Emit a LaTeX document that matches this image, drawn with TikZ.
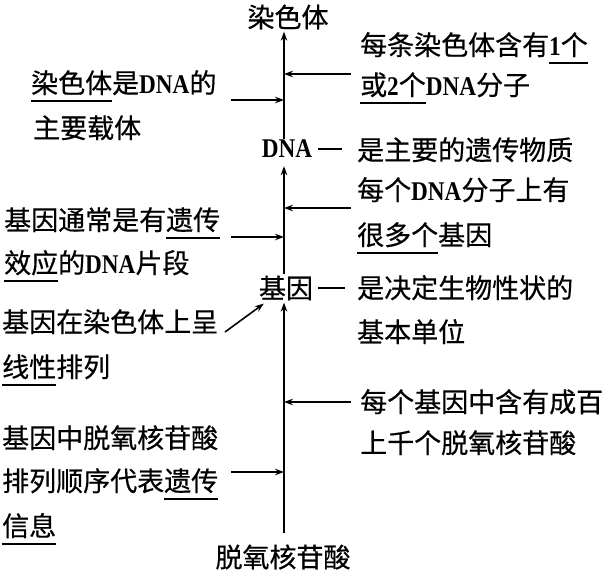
\documentclass[tikz,border=0pt]{standalone}
\usepackage{fontspec}
\setmainfont{Noto Sans CJK SC}[FakeBold=0.5]
\newfontfamily\latfont{Liberation Serif}[FakeStretch=0.86]
\usetikzlibrary{arrows.meta}
\newcommand{\la}[1]{{\latfont\bfseries #1}}
\newcommand{\myul}[1]{\setbox0=\hbox{#1}\rlap{\rule[-9pt]{\wd0}{1.6pt}}\box0}
\begin{document}
\begin{tikzpicture}[x=1pt,y=-1pt,
  txt/.style={inner sep=0pt, font=\fontsize{27pt}{27pt}\selectfont, anchor=base west},
  ctr/.style={inner sep=0pt, font=\fontsize{27pt}{27pt}\selectfont},
  arr/.style={line width=1.6pt, -{Stealth[length=9pt,width=6.5pt]}},
  dashln/.style={line width=1.8pt}]
\useasboundingbox (0,0) rectangle (608,571);
\fill[white] (0,0) rectangle (608,571);
% central column
\coordinate (axis) at (284,0);
\node[ctr] (c1) at (288,17) {染色体};
\node[ctr] (dna) at (287,149) {\la{DNA}};
\node[ctr] (gene) at (286,288) {基因};
\node[ctr] (deoxy) at (283,557) {脱氧核苷酸};
\draw[arr, shorten <=1pt, shorten >=2pt] (dna.north -| axis) -- (c1.south -| axis);
\draw[arr, shorten <=1pt, shorten >=8pt] (gene.north -| axis) -- (dna.south -| axis);
\draw[arr, shorten <=11pt, shorten >=2pt] (deoxy.north -| axis) -- (gene.south -| axis);
% right texts
\node[txt] (r1) at (360,55) {每条染色体含有\myul{\la{1}个}};
\node[txt] (r2) at (360,95) {\myul{或\la{2}个}\la{DNA}分子};
\node[txt] (dnad) at (357,160) {是主要的遗传物质};
\node[txt] (r3) at (357,200) {每个\la{DNA}分子上有};
\node[txt] (r4) at (357,245) {\myul{很多个}基因};
\node[txt] (gened) at (357,298) {是决定生物性状的};
\node[txt] (r5) at (357,342) {基本单位};
\node[txt] (r6) at (360,412) {每个基因中含有成百};
\node[txt] (r7) at (360,453) {上千个脱氧核苷酸};
% left texts
\node[txt] (l1) at (31,93) {\myul{染色体}是\la{DNA}的};
\node[txt] (l2) at (33,138) {主要载体};
\node[txt] (l3) at (4,230) {基因通常是有\myul{遗传}};
\node[txt] (l4) at (4,273) {\myul{效应}的\la{DNA}片段};
\node[txt] (l5) at (2,332) {基因在染色体上呈};
\node[txt] (l6) at (2,377) {\myul{线性}排列};
\node[txt] (l7) at (2,448) {基因中脱氧核苷酸};
\node[txt] (l8) at (2,491) {排列顺序代表\myul{遗传}};
\node[txt] (l9) at (2,536) {\myul{信息}};
% dashes
\draw[dashln] ([xshift=6pt]dna.east) -- ([xshift=-15pt]dna.east -| dnad.west);
\draw[dashln] ([xshift=5pt]gene.east) -- ([xshift=-12pt]gene.east -| gened.west);
% side arrows
\coordinate (ra1) at (351,74);
\coordinate (ra2) at (351,208);
\coordinate (ra3) at (351,402);
\coordinate (la1) at (231,100);
\coordinate (la2) at (231,237);
\coordinate (la3) at (231,472);
\foreach \p in {ra1,ra2,ra3,la1,la2,la3}
  \draw[arr] (\p) -- (\p -| axis);
\coordinate (dg) at (225,332);
\draw[arr] (dg) -- ([shift={(5pt,-3pt)}]gene.south west);
\end{tikzpicture}
\end{document}
